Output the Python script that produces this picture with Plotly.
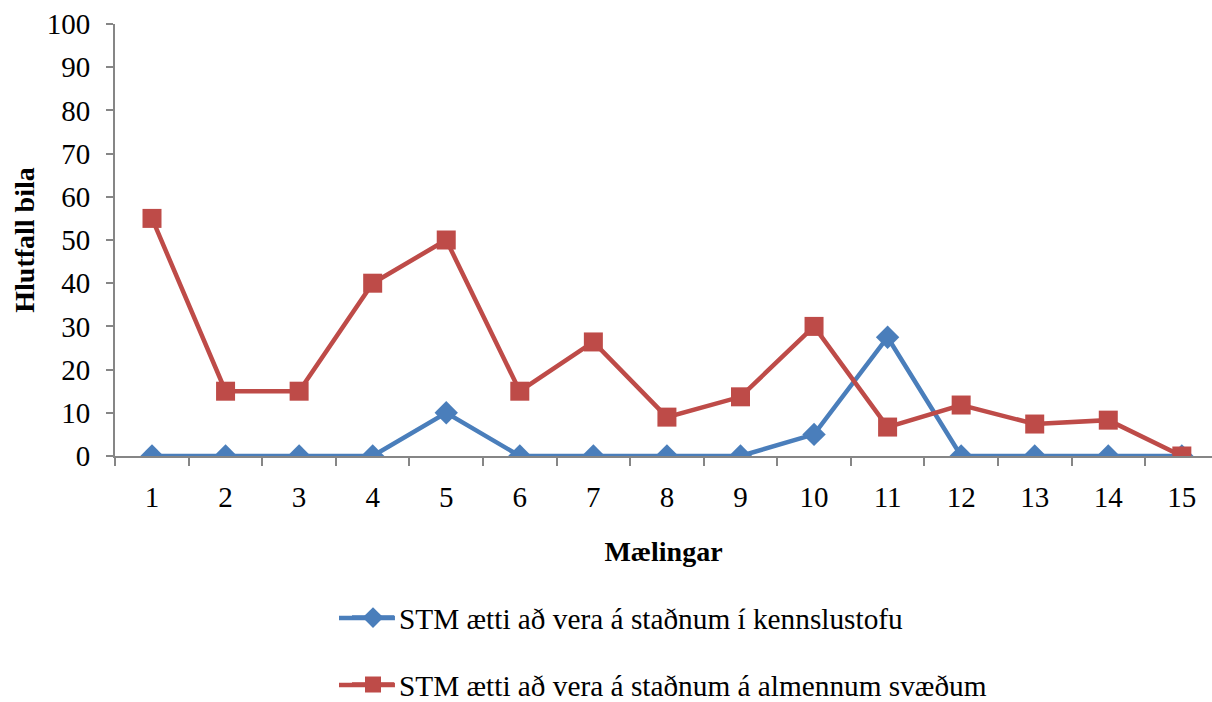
import plotly.graph_objects as go

# Measurement index (Mælingar)
measurements = list(range(1, 16))

# Share of cars (%) per measurement
kennslustofu = [0, 0, 0, 0, 10, 0, 0, 0, 0, 5, 27.5, 0, 0, 0, 0]
almennum = [55, 15, 15, 40, 50, 15, 26.4, 9, 13.7, 30, 6.7, 11.8, 7.4, 8.3, 0]

name_blue = "STM ætti að vera á staðnum í kennslustofu"
name_red = "STM ætti að vera á staðnum á almennum svæðum"

FONT = "Liberation Serif"
AXIS_GRAY = "#868686"
BLUE = "#4A7EBB"
RED = "#BE4B48"
TICK_FS = 29
LEG_FS = 29.3
TITLE_FS = 28

# legend placement (paper coordinates)
LEG_X = 0.2115
LEG_Y1 = -0.375
LEG_Y2 = -0.530

fig = go.Figure()
fig.add_trace(go.Scatter(
    x=measurements, y=kennslustofu, name=name_blue, mode="lines+markers",
    line=dict(color=BLUE, width=4.5),
    marker=dict(symbol="diamond", size=18, color=BLUE),
    legend="legend",
))
fig.add_trace(go.Scatter(
    x=measurements, y=almennum, name=name_red, mode="lines+markers",
    line=dict(color=RED, width=4.5),
    marker=dict(symbol="square", size=19, color=RED),
    legend="legend2",
))

# longer line swatches behind the legend symbols
for y, col in [(LEG_Y1, BLUE), (LEG_Y2, RED)]:
    fig.add_shape(type="line", xref="paper", yref="paper",
                  x0=0.2042, x1=0.2552, y0=y, y1=y,
                  line=dict(color=col, width=4.5), layer="above")

fig.update_layout(
    width=1212, height=702,
    margin=dict(l=115, r=0, t=24, b=246, autoexpand=False),
    paper_bgcolor="white", plot_bgcolor="white",
    font=dict(family=FONT, size=TICK_FS, color="black"),
    showlegend=True,
    legend=dict(x=LEG_X, y=LEG_Y1, xanchor="left", yanchor="middle", itemwidth=42,
                font=dict(family=FONT, size=LEG_FS), bgcolor="rgba(0,0,0,0)"),
    legend2=dict(x=LEG_X, y=LEG_Y2, xanchor="left", yanchor="middle", itemwidth=42,
                 font=dict(family=FONT, size=LEG_FS), bgcolor="rgba(0,0,0,0)"),
)

fig.update_xaxes(
    automargin=False,
    range=[0.497, 15.41],
    tickvals=measurements, ticktext=[str(m) for m in measurements],
    ticks="", showgrid=False, zeroline=False,
    showline=True, linecolor=AXIS_GRAY, linewidth=2,
    tickfont=dict(family=FONT, size=TICK_FS),
    ticklabelstandoff=14,
    minor=dict(tickvals=[m + 0.5 for m in range(0, 16)], ticks="outside",
               ticklen=8, tickcolor=AXIS_GRAY, tickwidth=2, showgrid=False),
    title=dict(text="<b>Mælingar</b>", font=dict(family=FONT, size=TITLE_FS), standoff=30),
)

fig.update_yaxes(
    automargin=False,
    range=[0, 100], tickvals=list(range(0, 101, 10)),
    ticks="outside", ticklen=7, tickcolor=AXIS_GRAY, tickwidth=2,
    showgrid=False, zeroline=False,
    showline=True, linecolor=AXIS_GRAY, linewidth=2,
    tickfont=dict(family=FONT, size=TICK_FS),
    ticklabelstandoff=10,
    title=dict(text="<b>Hlutfall bila</b>", font=dict(family=FONT, size=TITLE_FS), standoff=4),
)

fig.write_html("out.html")
